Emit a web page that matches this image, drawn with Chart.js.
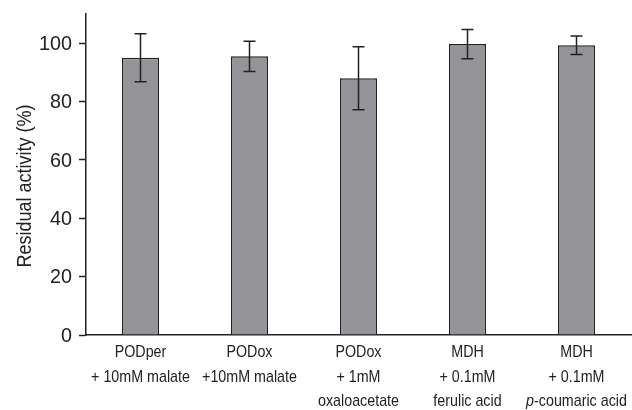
<!DOCTYPE html>
<html>
<head>
<meta charset="utf-8">
<script src="https://cdn.jsdelivr.net/npm/chart.js@4"></script>
<style>
  html, body { margin: 0; padding: 0; background: #fff; }
  #wrap { width: 632px; height: 410px; position: relative; }
</style>
</head>
<body>
<div id="wrap"><canvas id="activityChart"></canvas></div>
<script>
// categories, each one as lines of the x label
const categories = [
    ['PODper', '+ 10mM malate'],
    ['PODox', '+10mM malate'],
    ['PODox', '+ 1mM', 'oxaloacetate'],
    ['MDH', '+ 0.1mM', 'ferulic acid'],
    ['MDH', '+ 0.1mM', 'p-coumaric acid']
];
const activity = [95, 95.5, 88, 99.7, 99.3];
const errors = [8.2, 5.2, 10.8, 5.0, 3.2];
const yTicks = [0, 20, 40, 60, 80, 100];
const yTitle = 'Residual activity (%)';

// no narrow font installed, so text is squeezed sideways on the canvas
const FONT = "'Liberation Sans', Arial, sans-serif";
const INK = '#222222';

function narrowText(ctx, txt, x, y, size, squeeze, align, italic) {
    ctx.save();
    ctx.translate(x, y);
    ctx.scale(squeeze, 1);
    ctx.font = (italic ? 'italic ' : '') + size + 'px ' + FONT;
    ctx.textAlign = align;
    ctx.fillText(txt, 0, 0);
    ctx.restore();
}

function narrowWidth(ctx, txt, size, squeeze, italic) {
    ctx.font = (italic ? 'italic ' : '') + size + 'px ' + FONT;
    return ctx.measureText(txt).width * squeeze;
}

// error bars drawn from the y scale
const errorBars = {
    id: 'errorBars',
    afterDatasetsDraw(chart) {
        const ctx = chart.ctx;
        const meta = chart.getDatasetMeta(0);
        const y = chart.scales.y;
        ctx.save();
        ctx.strokeStyle = INK;
        ctx.lineWidth = 1.5;
        meta.data.forEach((bar, i) => {
            const top = y.getPixelForValue(activity[i] + errors[i]);
            const bot = y.getPixelForValue(activity[i] - errors[i]);
            const cap = 6;
            ctx.beginPath();
            ctx.moveTo(bar.x, top); ctx.lineTo(bar.x, bot);
            ctx.moveTo(bar.x - cap, top); ctx.lineTo(bar.x + cap, top);
            ctx.moveTo(bar.x - cap, bot); ctx.lineTo(bar.x + cap, bot);
            ctx.stroke();
        });
        ctx.restore();
    }
};

// tick labels, category labels (italic "p" of p-coumaric) and y title
const textPlugin = {
    id: 'textPlugin',
    afterDraw(chart) {
        const ctx = chart.ctx;
        const x = chart.scales.x;
        const y = chart.scales.y;
        ctx.save();
        ctx.fillStyle = INK;

        ctx.textBaseline = 'middle';
        yTicks.forEach(v => {
            narrowText(ctx, String(v), y.right - 14, y.getPixelForValue(v) + 1, 21, 0.94, 'right');
        });

        ctx.textBaseline = 'alphabetic';
        const base = x.top + 22;
        const lh = 24.5;
        const sq = 0.84;
        const fs = 17;
        categories.forEach((lines, i) => {
            const cx = x.getPixelForValue(i);
            lines.forEach((txt, j) => {
                const yy = base + j * lh;
                if (txt.startsWith('p-')) {
                    const rest = txt.slice(1);
                    const w1 = narrowWidth(ctx, 'p', fs, sq, true);
                    const w2 = narrowWidth(ctx, rest, fs, sq, false);
                    const start = cx - (w1 + w2) / 2;
                    narrowText(ctx, 'p', start, yy, fs, sq, 'left', true);
                    narrowText(ctx, rest, start + w1, yy, fs, sq, 'left', false);
                } else {
                    narrowText(ctx, txt, cx, yy, fs, sq, 'center');
                }
            });
        });

        ctx.translate(25, 186);
        ctx.rotate(-Math.PI / 2);
        ctx.textBaseline = 'middle';
        narrowText(ctx, yTitle, 0, 0, 20, 0.9, 'center');
        ctx.restore();
    }
};

new Chart(document.getElementById('activityChart'), {
    type: 'bar',
    data: {
        labels: categories.map(c => c.join(' ')),
        datasets: [{
            data: activity,
            backgroundColor: '#959599',
            borderColor: INK,
            borderWidth: 1.5,
            barPercentage: 0.34,
            categoryPercentage: 1
        }]
    },
    options: {
        responsive: true,
        maintainAspectRatio: false,
        animation: false,
        layout: { padding: { top: 14, right: 1, left: 0, bottom: 0 } },
        plugins: {
            legend: { display: false },
            tooltip: { enabled: false }
        },
        scales: {
            x: {
                grid: { display: false },
                border: { display: true, color: INK, width: 1.5 },
                ticks: { display: false },
                afterFit: s => { s.height = 75; }
            },
            y: {
                min: 0,
                max: 110,
                afterBuildTicks: s => { s.ticks = yTicks.map(v => ({ value: v })); },
                afterFit: s => { s.width = 86; },
                grid: {
                    drawOnChartArea: false,
                    drawTicks: true,
                    tickLength: 7,
                    tickWidth: 1.5,
                    tickColor: INK
                },
                border: { display: true, color: INK, width: 1.5 },
                ticks: { display: false }
            }
        }
    },
    plugins: [errorBars, textPlugin]
});
</script>
</body>
</html>
